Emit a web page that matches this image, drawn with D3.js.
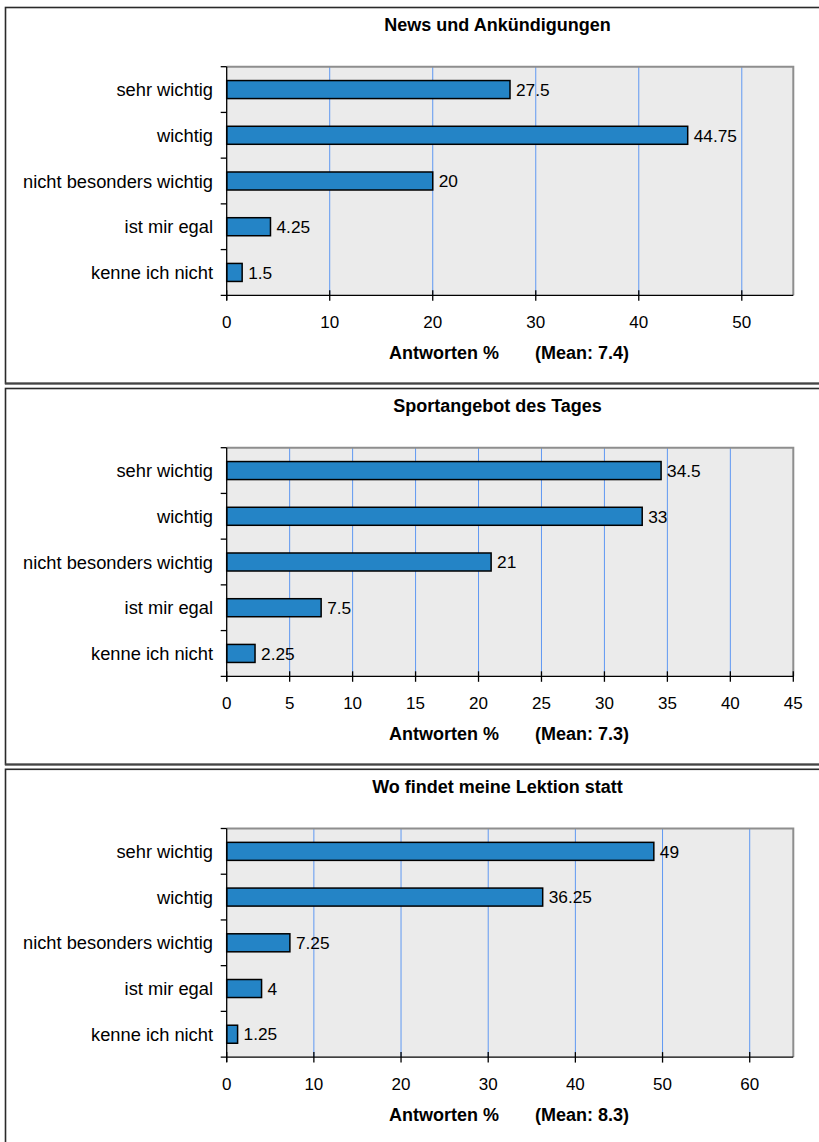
<!DOCTYPE html>
<html>
<head>
<meta charset="utf-8">
<script src="https://cdn.jsdelivr.net/npm/d3@7"></script>
<style>
  html, body { margin: 0; padding: 0; background: #fff; }
  svg { display: block; }
  text { font-family: "Liberation Sans", Arial, Helvetica, sans-serif; fill: #000; }
</style>
</head>
<body>
<svg id="chart" width="819" height="1142"></svg>
<script>
const categories = ["sehr wichtig", "wichtig", "nicht besonders wichtig", "ist mir egal", "kenne ich nicht"];
const titles = ["News und Ankündigungen", "Sportangebot des Tages", "Wo findet meine Lektion statt"];
const newsValues = [27.5, 44.75, 20, 4.25, 1.5];
const sportValues = [34.5, 33, 21, 7.5, 2.25];
const lektionValues = [49, 36.25, 7.25, 4, 1.25];
const axisMax = [55, 45, 65];
const tickSteps = [10, 5, 10];
const means = ["7.4", "7.3", "8.3"];
const axisTitle = "Antworten %";

const seriesList = [newsValues, sportValues, lektionValues];
const svg = d3.select("#chart");

const panelTops = [7.5, 388.5, 769.3];
const plotLeft = 226.7, plotRight = 793.3;

seriesList.forEach((values, i) => {
  const top = panelTops[i];
  const g = svg.append("g");

  // panel frame
  g.append("rect")
    .attr("x", 5.5).attr("y", top)
    .attr("width", 840).attr("height", i === 2 ? 500 : 376)
    .attr("fill", "#fff")
    .attr("stroke", "#2a2a2a").attr("stroke-width", 1.6);
  if (i < 2) {
    g.append("line")
      .attr("x1", 5).attr("x2", 840)
      .attr("y1", top + 376).attr("y2", top + 376)
      .attr("stroke", "#444").attr("stroke-width", 2.2);
  }

  const y0 = top + 59.2, y1 = top + 287.8;

  const x = d3.scaleLinear().domain([0, axisMax[i]]).range([plotLeft, plotRight]);
  const y = d3.scaleBand().domain(categories).range([y0, y1])
    .paddingInner(0.606).paddingOuter(0.303);
  const yEdge = d3.scaleBand().domain(categories).range([y0, y1]).padding(0);

  const ticks = d3.range(0, axisMax[i] + 0.001, tickSteps[i]);

  // plot background
  g.append("rect")
    .attr("x", plotLeft).attr("y", y0)
    .attr("width", plotRight - plotLeft).attr("height", y1 - y0)
    .attr("fill", "#ebebeb");

  // gridlines
  g.selectAll(".grid").data(ticks.filter(t => t > 0 && t < axisMax[i]))
    .enter().append("line")
    .attr("x1", d => x(d)).attr("x2", d => x(d))
    .attr("y1", y0).attr("y2", y1)
    .attr("stroke", "#5f98f2").attr("stroke-width", 1);

  // top & right border of plot
  g.append("path")
    .attr("d", `M${plotLeft},${y0}H${plotRight}V${y1}`)
    .attr("fill", "none").attr("stroke", "#8e8e8e").attr("stroke-width", 2);

  // bars
  g.selectAll(".bar").data(values).enter().append("rect")
    .attr("x", x(0))
    .attr("y", (d, k) => y(categories[k]))
    .attr("width", d => x(d) - x(0))
    .attr("height", y.bandwidth())
    .attr("fill", "#2484c6")
    .attr("stroke", "#000").attr("stroke-width", 1.5);

  // value labels
  g.selectAll(".val").data(values).enter().append("text")
    .attr("x", d => x(d) + 6)
    .attr("y", (d, k) => y(categories[k]) + y.bandwidth() / 2)
    .attr("dy", "0.36em")
    .attr("font-size", 17.3)
    .text(d => d);

  // left axis
  g.append("line")
    .attr("x1", plotLeft).attr("x2", plotLeft)
    .attr("y1", y0).attr("y2", y1 + 5)
    .attr("stroke", "#000").attr("stroke-width", 1.3);
  const edges = categories.map(c => yEdge(c));
  g.selectAll(".ltick").data(edges).enter().append("line")
    .attr("x1", plotLeft - 6).attr("x2", plotLeft)
    .attr("y1", d => d).attr("y2", d => d)
    .attr("stroke", "#000").attr("stroke-width", 1.3);

  // category labels
  g.selectAll(".cat").data(categories).enter().append("text")
    .attr("x", 213)
    .attr("y", d => y(d) + y.bandwidth() / 2)
    .attr("dy", "0.36em")
    .attr("text-anchor", "end")
    .attr("font-size", 18.3)
    .text(d => d);

  // bottom axis
  g.append("line")
    .attr("x1", plotLeft - 6).attr("x2", plotRight)
    .attr("y1", y1).attr("y2", y1)
    .attr("stroke", "#000").attr("stroke-width", 1.3);
  g.selectAll(".btick").data(ticks).enter().append("line")
    .attr("x1", d => x(d)).attr("x2", d => x(d))
    .attr("y1", y1 - 5).attr("y2", y1 + 5.5)
    .attr("stroke", "#000").attr("stroke-width", 1.3);
  g.selectAll(".blabel").data(ticks).enter().append("text")
    .attr("x", d => x(d))
    .attr("y", y1 + 27)
    .attr("dy", "0.36em")
    .attr("text-anchor", "middle")
    .attr("font-size", 17)
    .text(d => d3.format("d")(d));

  // axis title
  g.append("text")
    .attr("x", 389).attr("y", top + 345.5).attr("dy", "0.36em")
    .attr("font-size", 18).attr("font-weight", "bold")
    .text(axisTitle);
  g.append("text")
    .attr("x", 535).attr("y", top + 345.5).attr("dy", "0.36em")
    .attr("font-size", 18).attr("font-weight", "bold")
    .text(`(Mean: ${means[i]})`);

  // title
  g.append("text")
    .attr("x", 497.5).attr("y", top + 17.5).attr("dy", "0.36em")
    .attr("text-anchor", "middle")
    .attr("font-size", 18).attr("font-weight", "bold")
    .text(titles[i]);
});
</script>
</body>
</html>
